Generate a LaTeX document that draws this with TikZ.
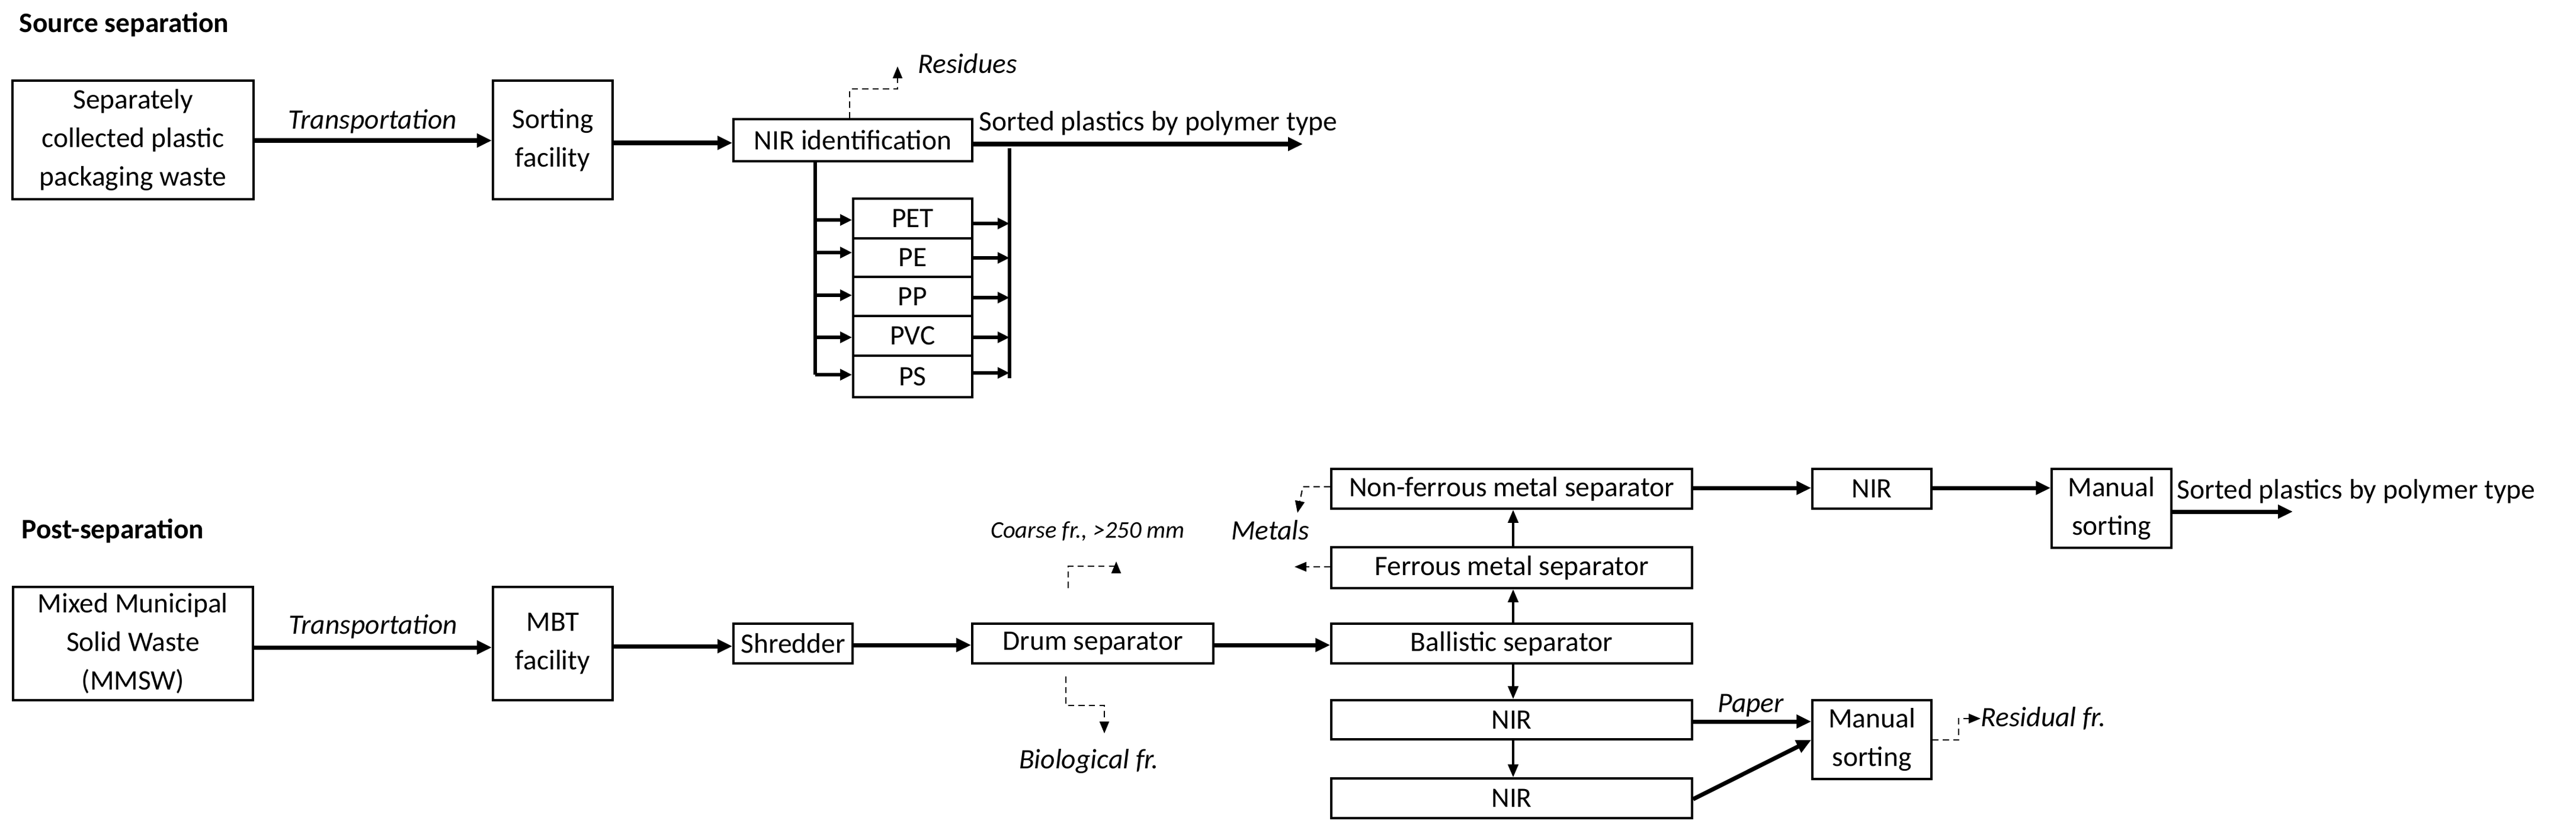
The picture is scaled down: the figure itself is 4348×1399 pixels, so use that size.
\documentclass[tikz,border=0pt]{standalone}
\usepackage{fontspec}
\setmainfont{Carlito}
\usetikzlibrary{arrows.meta}
\begin{document}
\begin{tikzpicture}[x=0.01cm,y=-0.01cm,
  every node/.style={font=\fontsize{13.5}{18.5}\selectfont},
  box/.style 2 args={draw,line width=1pt,inner sep=0pt,align=center,minimum width=#1*0.01cm,minimum height=#2*0.01cm},
  flow/.style={line width=2pt,-{Triangle[length=0.25cm,width=0.22cm]}},
  sflow/.style={line width=1.5pt,-{Triangle[length=0.2cm,width=0.18cm]}},
  vflow/.style={line width=1.3pt,-{Triangle[length=0.22cm,width=0.17cm]}},
  waste/.style={line width=0.6pt,dash pattern=on 3pt off 2pt,-{Triangle[length=0.2cm,width=0.16cm]}},
  lbl/.style={font=\fontsize{13.5}{18.5}\selectfont\itshape,inner sep=0pt},
  head/.style={font=\fontsize{13.5}{18.5}\selectfont\bfseries,inner sep=0pt,anchor=west}]
\useasboundingbox (0,0) rectangle (4348,1399);
% ---------- Source separation ----------
\node[head] (h1) at (32,42) {Source separation};
\node[box={407}{200}] (src) at (224.5,236) {Separately\\collected plastic\\packaging waste};
\node[box={202}{200}] (sort) at (933,236) {Sorting\\facility};
\node[box={403}{71}] (nir) at (1439.5,236.5) {NIR identification};
\node[box={201}{67}] (pet) at (1540.5,368.5) {PET};
\node[box={201}{65}] (pe) at (1540.5,434.5) {PE};
\node[box={201}{66}] (pp) at (1540.5,500) {PP};
\node[box={201}{67}] (pvc) at (1540.5,566.5) {PVC};
\node[box={201}{70}] (ps) at (1540.5,635) {PS};
\node[lbl] (tr1) at (629,205) {Transportation};
\node[inner sep=0pt,anchor=west] (sp1) at (1652,208) {Sorted plastics by polymer type};
\node[lbl,anchor=west] (res) at (1549,107) {Residues};
\coordinate (e1) at (2199,243);
\draw[flow] (src.east |- 0,237) -- (sort.west |- 0,237);
\draw[flow] (sort.east |- 0,241) -- (nir.west |- 0,241);
\draw[flow] (nir.east |- e1) -- (e1);
\coordinate (lt) at (1376,272); \coordinate (lb) at (1376,632);
\coordinate (rt) at (1704,250); \coordinate (rb) at (1704,638);
\draw[line width=1.5pt] (lt) -- (lb);
\draw[line width=1.5pt] (rt) -- (rb);
\foreach \n/\yl/\yr in {pet/371/377,pe/426/435,pp/498/502,pvc/569/569,ps/632/629}{
  \draw[sflow] (1376,\yl) -- (\n.west |- 0,\yl);
  \draw[sflow] (\n.east |- 0,\yr) -- (1704,\yr);
}
\coordinate (r1) at (1434,150); \coordinate (r2) at (1515,150);
\draw[waste] (nir.north -| r1) -- (r1) -- (r2) -- (1515,112);
% ---------- Post-separation ----------
\node[head] (h2) at (36,896) {Post-separation};
\node[box={405}{191}] (mmsw) at (224.5,1085.5) {Mixed Municipal\\Solid Waste\\(MMSW)};
\node[box={202}{191}] (mbt) at (933,1085.5) {MBT\\facility};
\node[box={201}{67}] (shr) at (1338.5,1085.5) {Shredder};
\node[box={407}{67}] (drum) at (1844.5,1085.5) {Drum separator};
\node[box={609}{67}] (ball) at (2551.5,1085.5) {Ballistic separator};
\node[box={609}{69}] (ferr) at (2551.5,957.5) {Ferrous metal separator};
\node[box={609}{67}] (nonf) at (2551.5,824.5) {Non-ferrous metal separator};
\node[box={609}{66}] (nir1) at (2551.5,1214) {NIR};
\node[box={609}{67}] (nir2) at (2551.5,1346.5) {NIR};
\node[box={201}{67}] (nirT) at (3159.5,824.5) {NIR};
\node[box={202}{133}] (manT) at (3564,857.5) {Manual\\sorting};
\node[box={201}{133}] (manB) at (3159.5,1247.5) {Manual\\sorting};
\node[lbl] (tr2) at (630,1057) {Transportation};
\node[lbl,font=\fontsize{11.5}{14}\selectfont\itshape] (coarse) at (1836,896) {Coarse fr., >250 mm};
\node[lbl] (bio) at (1838,1284) {Biological fr.};
\node[lbl] (met) at (2144,894) {Metals};
\node[lbl] (pap) at (2955,1190) {Paper};
\node[lbl,anchor=west] (resid) at (3343,1212) {Residual fr.};
\node[inner sep=0pt,anchor=west] (sp2) at (3674,829) {Sorted plastics by polymer type};
\coordinate (e2) at (3870,863);
\draw[flow] (mmsw.east |- 0,1092) -- (mbt.west |- 0,1092);
\draw[flow] (mbt.east |- 0,1090) -- (shr.west |- 0,1090);
\draw[flow] (shr.east |- 0,1088) -- (drum.west |- 0,1088);
\draw[flow] (drum.east |- 0,1088) -- (ball.west |- 0,1088);
\draw[vflow] (ball.north -| 2554,0) -- (ferr.south -| 2554,0);
\draw[vflow] (ferr.north -| 2554,0) -- (nonf.south -| 2554,0);
\draw[vflow] (ball.south -| 2554,0) -- (nir1.north -| 2554,0);
\draw[vflow] (nir1.south -| 2554,0) -- (nir2.north -| 2554,0);
\draw[flow] (nonf.east |- 0,823) -- (nirT.west |- 0,823);
\draw[flow] (nirT.east |- 0,823) -- (manT.west |- 0,823);
\draw[flow] (manT.east |- e2) -- (e2);
\draw[flow] (nir1.east |- 0,1217) -- (manB.west |- 0,1217);
\draw[flow] (nir2.east |- 0,1348) -- (manB.west |- 0,1248);
% dashed side streams
\draw[waste] (1803,992) -- (1803,955) -- (1884,955) -- (1884,947);
\draw[waste] (1799,1141) -- (1799,1190) -- (1864,1190) -- (1864,1237);
\draw[waste] (nonf.west |- 0,821) -- (2199,821) -- (2190,865);
\draw[waste] (ferr.west |- 0,956) -- (2185,956);
\draw[waste] (manB.east |- 0,1248) -- (3306,1248) -- (3306,1212) -- (3343,1212);
\end{tikzpicture}
\end{document}
